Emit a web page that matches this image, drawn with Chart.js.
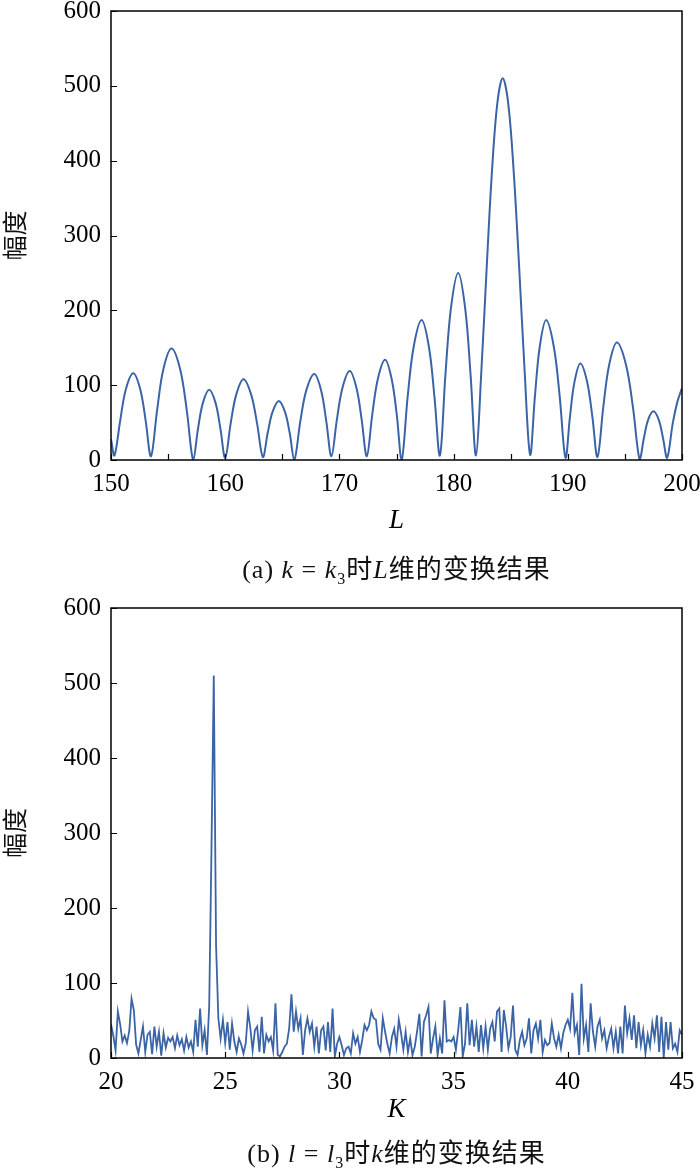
<!DOCTYPE html>
<html>
<head>
<meta charset="utf-8">
<script src="https://cdn.jsdelivr.net/npm/chart.js@4.4.1/dist/chart.umd.min.js"></script>
<style>
  body { margin: 0; background: #fff; }
  #wrap { position: relative; width: 700px; height: 1170px; }
  canvas { position: absolute; left: 0; }
  .cap {
    position: absolute; left: 111px; width: 571px; text-align: center;
    font: 26px "Liberation Serif", "Noto Sans CJK SC", serif; color: #111;
    white-space: nowrap; line-height: 30px; letter-spacing: 1px;
  }
  .cap sub { font-size: 16px; vertical-align: -6px; line-height: 0; }
</style>
</head>
<body>
<div id="wrap">
  <canvas id="chartL" width="700" height="590" style="top:0"></canvas>
  <canvas id="chartK" width="700" height="580" style="top:590px"></canvas>
  <div class="cap" style="top:555px">(a) <i>k</i> = <i>k</i><sub>3</sub>时<i>L</i>维的变换结果</div>
  <div class="cap" style="top:1139px">(b) <i>l</i> = <i>l</i><sub>3</sub>时<i>k</i>维的变换结果</div>
</div>
<script>
// (a) amplitude along L: nulls, lobe flanks and peaks
const topL = [
  150, 150.3,
  150.8, 151.29, 151.95, 152.57, 153.04, 153.5,
  154.04, 154.58, 155.3, 156.06, 156.63, 157.2,
  157.62, 158.04, 158.6, 159.16, 159.58, 160.0,
  160.48, 160.96, 161.6, 162.28, 162.79, 163.3,
  163.72, 164.14, 164.7, 165.24, 165.65, 166.05,
  166.58, 167.1, 167.8, 168.4, 168.85, 169.3,
  169.78, 170.26, 170.9, 171.5, 171.95, 172.4,
  172.88, 173.36, 174.0, 174.58, 175.02, 175.45,
  175.98, 176.5, 177.2, 177.84, 178.32, 178.8,
  179.28, 179.76, 180.4, 181.02, 181.49, 181.96,
  182.43, 182.9, 183.36, 183.83, 184.3, 184.78, 185.26, 185.74, 186.22, 186.7,
  187.12, 187.54, 188.1, 188.78, 189.29, 189.8,
  190.19, 190.58, 191.1, 191.7, 192.15, 192.6,
  193.11, 193.62, 194.3, 195.1, 195.7, 196.3,
  196.66, 197.02, 197.5, 197.98, 198.34, 198.7,
  199.2, 199.6, 200
];
const topAmp = [
  28, 6,
  52, 94, 116, 94, 52, 5,
  67, 121, 149, 121, 67, 0,
  42, 76, 94, 76, 42, 3,
  49, 87, 108, 87, 49, 4,
  36, 64, 79, 64, 36, 0,
  52, 93, 115, 93, 52, 5,
  54, 96, 119, 96, 54, 5,
  61, 108, 134, 108, 61, 0,
  85, 151, 187, 151, 85, 6,
  113, 202, 250, 202, 113, 6,
  119, 258, 386, 477, 510, 477, 386, 258, 119, 7,
  85, 151, 187, 151, 85, 3,
  58, 104, 129, 104, 58, 4,
  71, 127, 157, 127, 71, 0,
  29, 53, 65, 53, 29, 3,
  50, 78, 96
];

// (b) amplitude along K, one reading every 0.1 from 20 to 45
const kStart = 20;
const kStep = 0.1;
const bottomAmp = [
  45, 30, 10, 62, 45, 22, 30, 20, 36, 79,
  64, 18, 6, 24, 42, 8, 31, 35, 5, 42,
  15, 35, 3, 33, 14, 27, 22, 28, 13, 30,
  17, 25, 10, 28, 14, 22, 8, 51, 15, 66,
  17, 37, 4, 70, 280, 510, 150, 53, 26, 51,
  20, 48, 11, 46, 22, 8, 26, 18, 6, 20,
  62, 40, 10, 37, 42, 8, 55, 6, 31, 22,
  28, 10, 73, 4, 2, 8, 15, 19, 39, 85,
  35, 62, 39, 53, 4, 37, 53, 35, 46, 15,
  42, 6, 37, 42, 10, 48, 8, 66, 2, 19,
  28, 17, 4, 13, 15, 6, 33, 19, 28, 8,
  24, 44, 37, 44, 62, 53, 51, 19, 11, 53,
  35, 19, 6, 28, 39, 15, 51, 33, 11, 35,
  8, 26, 4, 15, 35, 59, 2, 48, 57, 68,
  6, 26, 42, 4, 26, 6, 77, 22, 24, 22,
  28, 11, 37, 68, 2, 19, 73, 17, 51, 15,
  42, 8, 44, 13, 42, 11, 39, 48, 22, 62,
  66, 8, 64, 42, 13, 28, 70, 11, 4, 24,
  35, 17, 26, 53, 6, 37, 46, 26, 51, 8,
  24, 17, 20, 46, 26, 15, 31, 13, 33, 44,
  51, 39, 87, 33, 44, 4, 99, 26, 44, 8,
  73, 35, 15, 42, 51, 26, 37, 13, 28, 39,
  13, 35, 6, 42, 6, 70, 33, 53, 24, 57,
  13, 48, 17, 37, 6, 31, 15, 46, 26, 57,
  8, 55, 0, 48, 11, 48, 13, 19, 8, 37,
  31
];
const bottomK = bottomAmp.map((_, i) => +(kStart + i * kStep).toFixed(1));

const yTitle = '幅度';
const lineColor = '#3b64a6';
const serif = '"Liberation Serif", "Times New Roman", serif';

// box around the plot area plus short inward tick marks
const framePlugin = {
  id: 'frame',
  afterDraw(chart) {
    const { ctx, chartArea: a, scales } = chart;
    ctx.save();
    ctx.strokeStyle = '#000';
    ctx.lineWidth = 1.2;
    ctx.beginPath();
    scales.x.ticks.forEach(t => {
      const px = Math.round(scales.x.getPixelForValue(t.value)) + 0.5;
      ctx.moveTo(px, a.bottom);
      ctx.lineTo(px, a.bottom - 6);
    });
    scales.y.ticks.forEach(t => {
      const py = Math.round(scales.y.getPixelForValue(t.value)) + 0.5;
      ctx.moveTo(a.left, py);
      ctx.lineTo(a.left + 6, py);
    });
    ctx.stroke();
    ctx.lineWidth = 1.5;
    ctx.strokeRect(a.left, a.top, a.right - a.left, a.bottom - a.top);
    ctx.restore();
  }
};

function makeChart(id, xs, ys, o) {
  return new Chart(document.getElementById(id), {
    type: 'line',
    data: {
      datasets: [{
        data: xs.map((x, i) => ({ x: x, y: ys[i] })),
        borderColor: lineColor,
        borderWidth: o.lineWidth,
        pointRadius: 0,
        tension: o.tension,
        fill: false
      }]
    },
    options: {
      responsive: false,
      animation: false,
      devicePixelRatio: 1,
      layout: { padding: { top: o.top, right: 18, left: 0, bottom: 0 } },
      plugins: { legend: { display: false }, tooltip: { enabled: false } },
      scales: {
        x: {
          type: 'linear', min: o.xMin, max: o.xMax,
          afterFit(s) { s.height = o.xHeight; s.paddingLeft = 0; s.paddingRight = 0; },
          ticks: {
            stepSize: o.xStep, autoSkip: false, maxRotation: 0, padding: 9,
            color: '#000', font: { family: serif, size: 25 },
            callback: v => (Math.round(v) % o.labelEvery === 0 ? String(v) : '')
          },
          grid: { drawOnChartArea: false, drawTicks: false },
          border: { display: false },
          title: {
            display: true, text: o.xTitle, color: '#000',
            font: { family: serif, size: 27, style: 'italic', lineHeight: 1.2 },
            padding: { top: 0, bottom: o.titlePad }
          }
        },
        y: {
          min: 0, max: 600,
          afterFit(s) { s.width = 111; s.paddingTop = 0; s.paddingBottom = 0; },
          ticks: {
            stepSize: 100, padding: 10, color: '#000',
            font: { family: serif, size: 25 }
          },
          grid: { drawOnChartArea: false, drawTicks: false },
          border: { display: false },
          title: {
            display: true, text: yTitle, color: '#111',
            font: { family: '"Noto Sans CJK SC", sans-serif', size: 25, lineHeight: 1 },
            padding: { top: 2, bottom: 0 }
          }
        }
      }
    },
    plugins: [framePlugin]
  });
}

makeChart('chartL', topL, topAmp, {
  xMin: 150, xMax: 200, xStep: 5, labelEvery: 10, xTitle: 'L',
  top: 11, xHeight: 130, titlePad: 53, lineWidth: 2, tension: 0.35
});

makeChart('chartK', bottomK, bottomAmp, {
  xMin: 20, xMax: 45, xStep: 5, labelEvery: 5, xTitle: 'K',
  top: 18, xHeight: 112, titlePad: 44, lineWidth: 1.8, tension: 0
});
</script>
</body>
</html>
